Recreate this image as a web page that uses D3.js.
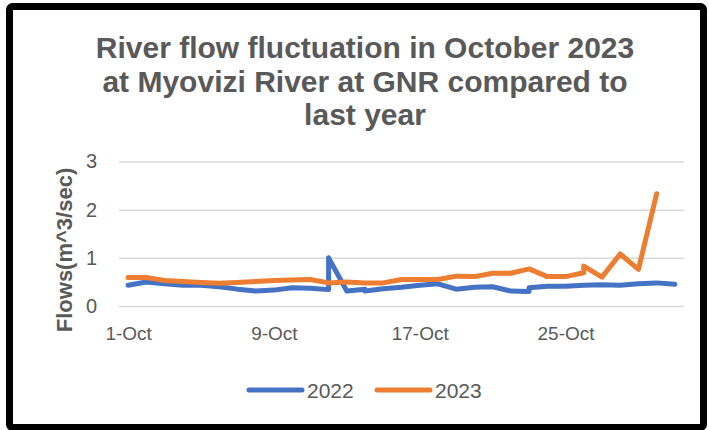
<!DOCTYPE html>
<html>
<head>
<meta charset="utf-8">
<script src="https://cdn.jsdelivr.net/npm/d3@7"></script>
<style>
  body { margin: 0; background: #fff; }
  svg { display: block; }
</style>
</head>
<body>
<svg id="chart"></svg>
<script>
// day of October for each reading (some days have two readings)
var days2022 = [1, 2, 3, 4, 5, 6, 7, 8, 9, 10, 11, 12, 12, 13, 14, 14, 15, 16, 17, 18, 19, 20, 21, 22, 23, 23, 24, 25, 26, 27, 28, 29, 30, 31];
var flows2022 = [0.43, 0.50, 0.46, 0.43, 0.43, 0.40, 0.35, 0.31, 0.33, 0.38, 0.37, 0.34, 1.00, 0.31, 0.35, 0.31, 0.36, 0.39, 0.43, 0.46, 0.35, 0.39, 0.40, 0.31, 0.30, 0.38, 0.41, 0.41, 0.43, 0.44, 0.43, 0.46, 0.48, 0.45];

var days2023 = [1, 2, 3, 4, 5, 6, 7, 8, 9, 10, 11, 12, 13, 14, 15, 16, 17, 18, 19, 20, 21, 22, 23, 24, 25, 26, 26, 27, 28, 29, 30];
var flows2023 = [0.59, 0.59, 0.53, 0.51, 0.49, 0.47, 0.49, 0.51, 0.53, 0.54, 0.55, 0.48, 0.50, 0.48, 0.48, 0.55, 0.55, 0.55, 0.62, 0.61, 0.68, 0.68, 0.77, 0.61, 0.61, 0.69, 0.83, 0.60, 1.08, 0.76, 2.33];

var tickDays = [1, 9, 17, 25];
var tickLabels = ['1-Oct', '9-Oct', '17-Oct', '25-Oct'];
var yTicks = [0, 1, 2, 3];

var series = [
  { name: '2022', days: days2022, flows: flows2022, color: '#4472C4' },
  { name: '2023', days: days2023, flows: flows2023, color: '#ED7D31' }
];

var svgWidth = 709, svgHeight = 430;
var font = '"Liberation Sans", Arial, sans-serif';
var svg = d3.select('#chart')
  .attr('width', svgWidth)
  .attr('height', svgHeight);

// outer black frame
svg.append('rect')
  .attr('x', 9.5).attr('y', 6.5)
  .attr('width', 694).attr('height', 421)
  .attr('rx', 3)
  .attr('fill', '#fff')
  .attr('stroke', '#000')
  .attr('stroke-width', 7);

var x = d3.scaleLinear().domain([0.5, 31.5]).range([119, 684]);
var y = d3.scaleLinear().domain([0, 3]).range([306, 161.5]);

// title
var title = ['River flow fluctuation in October 2023', 'at Myovizi River at GNR compared to', 'last year'];
svg.append('text')
  .attr('x', 365).attr('y', 58)
  .attr('text-anchor', 'middle')
  .attr('font-family', font)
  .attr('font-weight', 'bold')
  .attr('font-size', 30)
  .attr('fill', '#595959')
  .selectAll('tspan')
  .data(title)
  .enter()
  .append('tspan')
  .attr('x', 365)
  .attr('dy', (d, i) => i === 0 ? 0 : 33.5)
  .text(d => d);

// gridlines + y labels
var yAxis = d3.axisLeft(y)
  .tickValues(yTicks)
  .tickSize(-(684 - 119))
  .tickPadding(22)
  .tickFormat(d3.format('d'));

var gy = svg.append('g')
  .attr('transform', 'translate(119,0)')
  .call(yAxis);
gy.select('.domain').remove();
gy.selectAll('line').attr('stroke', '#d9d9d9').attr('stroke-width', 1.5);
gy.selectAll('text')
  .attr('font-family', font)
  .attr('font-size', 20)
  .attr('fill', '#595959');

// x labels
var xAxis = d3.axisBottom(x)
  .tickValues(tickDays)
  .tickSize(0)
  .tickPadding(21)
  .tickFormat((d, i) => tickLabels[i]);

var gx = svg.append('g')
  .attr('transform', 'translate(0,306)')
  .call(xAxis);
gx.select('.domain').remove();
gx.selectAll('text')
  .attr('font-family', font)
  .attr('font-size', 19)
  .attr('fill', '#595959');

// y axis title
svg.append('text')
  .attr('transform', 'translate(72,250) rotate(-90)')
  .attr('text-anchor', 'middle')
  .attr('font-family', font)
  .attr('font-weight', 'bold')
  .attr('font-size', 22)
  .attr('fill', '#595959')
  .text('Flows(m^3/sec)');

// lines
var line = d3.line()
  .x(d => x(d[0]))
  .y(d => y(d[1]));

svg.selectAll('path.series')
  .data(series)
  .enter()
  .append('path')
  .attr('class', 'series')
  .attr('d', s => line(s.days.map((d, i) => [d, s.flows[i]])))
  .attr('fill', 'none')
  .attr('stroke', s => s.color)
  .attr('stroke-width', 5)
  .attr('stroke-linejoin', 'round')
  .attr('stroke-linecap', 'round');

// legend
var legend = svg.selectAll('g.legend')
  .data(series)
  .enter()
  .append('g')
  .attr('class', 'legend')
  .attr('transform', (d, i) => `translate(${249 + i * 128},390)`);

legend.append('line')
  .attr('x1', 0).attr('x2', 53)
  .attr('stroke', d => d.color)
  .attr('stroke-width', 5)
  .attr('stroke-linecap', 'round');

legend.append('text')
  .attr('x', 58).attr('y', 7.5)
  .attr('font-family', font)
  .attr('font-size', 21)
  .attr('fill', '#595959')
  .text(d => d.name);
</script>
</body>
</html>
